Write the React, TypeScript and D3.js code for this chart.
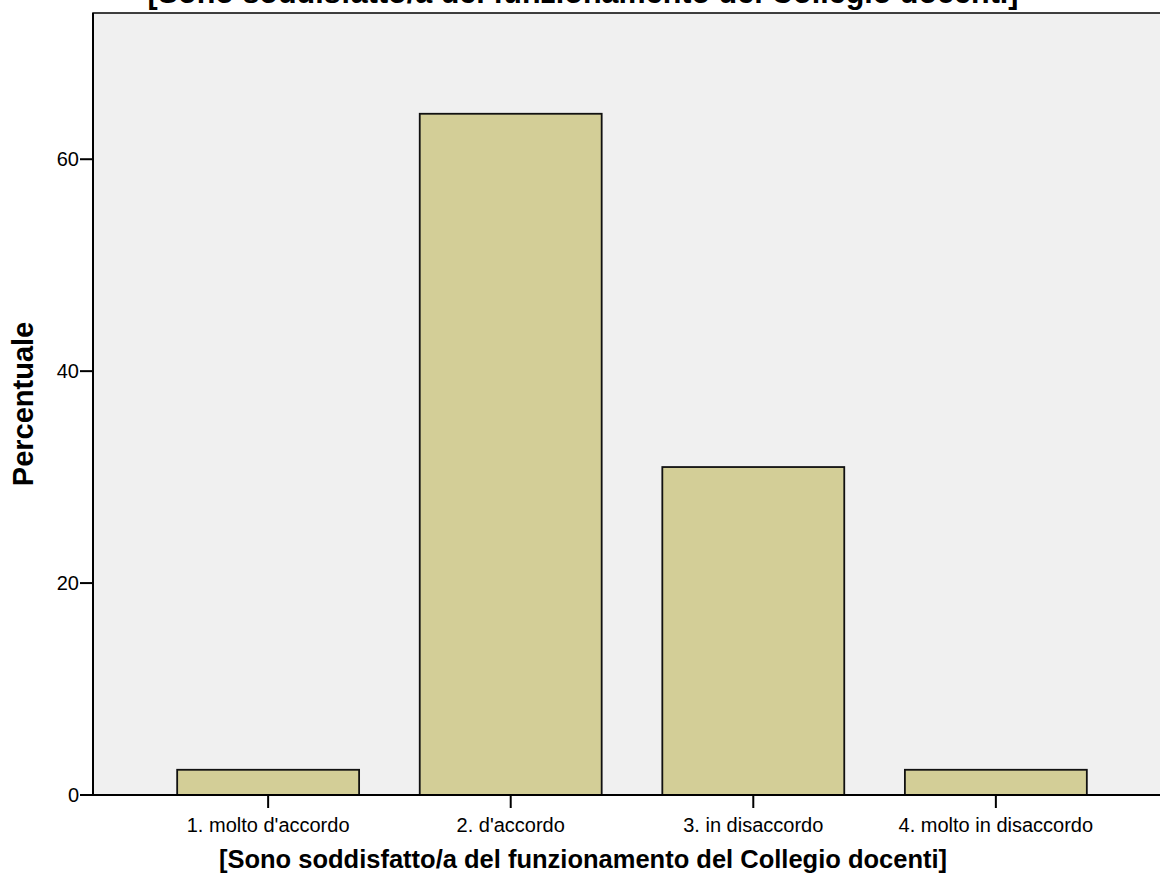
import React from "react";
import * as d3 from "d3";

const categories = ["1. molto d'accordo", "2. d'accordo", "3. in disaccordo", "4. molto in disaccordo"];
const percentages = [2.38, 64.29, 30.95, 2.38];
const yTicks = [0, 20, 40, 60];
const titleText = "[Sono soddisfatto/a del funzionamento del Collegio docenti]";
const xLabel = "[Sono soddisfatto/a del funzionamento del Collegio docenti]";
const yLabel = "Percentuale";

const W = 1160;
const H = 882;
const plot = { left: 93, top: 13, right: 1171, bottom: 795 };
const FONT = "'Liberation Sans', Arial, Helvetica, sans-serif";

export default function App() {
  const x = d3
    .scaleBand<string>()
    .domain(categories)
    .range([plot.left, plot.right])
    .paddingInner(0.25)
    .paddingOuter(0.347);
  const y = d3.scaleLinear().domain([0, 73.8]).range([plot.bottom, plot.top]);

  return (
    <svg
      width={W}
      height={H}
      style={{ position: "absolute", left: 0, top: 0, background: "#fff" }}
      fontFamily={FONT}
    >
      <rect
        x={plot.left}
        y={plot.top}
        width={plot.right - plot.left}
        height={plot.bottom - plot.top}
        fill="#F0F0F0"
        stroke="#000"
        strokeWidth={1.5}
      />
      {categories.map((c, i) => (
        <rect
          key={c}
          x={x(c)!}
          y={y(percentages[i])}
          width={x.bandwidth()}
          height={y(0) - y(percentages[i])}
          fill="#D3CE97"
          stroke="#111"
          strokeWidth={1.8}
        />
      ))}
      <line x1={plot.left} x2={W} y1={plot.bottom} y2={plot.bottom} stroke="#000" strokeWidth={2} />
      <line x1={plot.left} x2={plot.left} y1={plot.top} y2={plot.bottom} stroke="#000" strokeWidth={2} />
      {yTicks.map((t) => (
        <g key={t}>
          <line x1={plot.left - 13} x2={plot.left} y1={y(t)} y2={y(t)} stroke="#000" strokeWidth={2} />
          <text x={plot.left - 14} y={y(t)} dy="0.36em" textAnchor="end" fontSize={20} fill="#000">
            {t}
          </text>
        </g>
      ))}
      {categories.map((c) => {
        const cx = x(c)! + x.bandwidth() / 2;
        return (
          <g key={c}>
            <line x1={cx} x2={cx} y1={plot.bottom} y2={plot.bottom + 13} stroke="#000" strokeWidth={2} />
            <text x={cx} y={832} textAnchor="middle" fontSize={20} fill="#000">
              {c}
            </text>
          </g>
        );
      })}
      <text x={583} y={868} textAnchor="middle" fontSize={25.5} fontWeight="bold" fill="#000">
        {xLabel}
      </text>
      <text
        transform={`translate(33,404) rotate(-90)`}
        textAnchor="middle"
        fontSize={29}
        fontWeight="bold"
        fill="#000"
      >
        {yLabel}
      </text>
      <text x={583} y={3} textAnchor="middle" fontSize={30.5} fontWeight="bold" fill="#000">
        {titleText}
      </text>
    </svg>
  );
}
